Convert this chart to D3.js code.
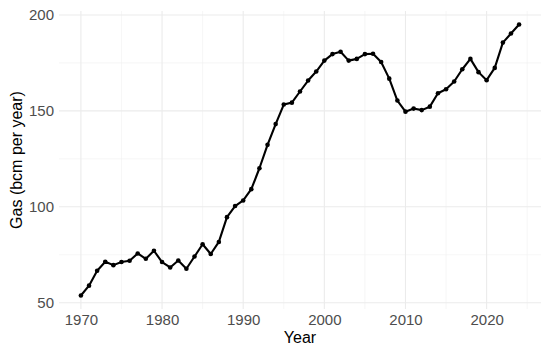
<!DOCTYPE html>
<html>
<head>
<meta charset="utf-8">
<script src="https://cdn.jsdelivr.net/npm/d3@7"></script>
<style>
  html, body { margin: 0; padding: 0; background: #fff; }
  svg { display: block; font-family: "Liberation Sans", Arial, sans-serif; }
</style>
</head>
<body>
<div id="chart"></div>
<script>
// ------- data -------
const years = d3.range(1970, 2025);
const gas = [
  53.8, 58.9, 66.7, 71.4, 69.6, 71.2, 71.9, 75.7, 72.9, 77.1,
  71.2, 68.4, 72.0, 67.7, 74.1, 80.5, 75.4, 81.7, 94.6, 100.4,
  103.3, 109.2, 120.1, 132.3, 143.1, 153.3, 154.3, 160.1, 165.8, 170.5,
  176.2, 179.6, 180.8, 176.2, 177.1, 179.6, 179.8, 175.5, 166.8, 155.4,
  149.6, 151.2, 150.4, 152.2, 159.2, 161.3, 165.3, 171.7, 177.1, 170.2,
  166.0, 172.4, 185.6, 190.3, 195.0
];
const xTicks = [1970, 1980, 1990, 2000, 2010, 2020];
const xMinor = [1975, 1985, 1995, 2005, 2015, 2025];
const yTicks = [50, 100, 150, 200];
const yMinor = [75, 125, 175];

const data = years.map((y, i) => ({ year: y, value: gas[i] }));

// ------- layout -------
const width = 550, height = 351;
const panel = { left: 59, right: 541, top: 11, bottom: 309 };
const FONT = "\"Liberation Sans\", Arial, sans-serif";

const svg = d3.select("#chart").append("svg")
  .attr("width", width).attr("height", height);

// ggplot-style 5% expansion
const xExt = d3.extent(years), xPad = (xExt[1] - xExt[0]) * 0.05;
const yExt = d3.extent(gas), yPad = (yExt[1] - yExt[0]) * 0.05;

const x = d3.scaleLinear()
  .domain([xExt[0] - xPad, xExt[1] + xPad])
  .range([panel.left, panel.right]);
const y = d3.scaleLinear()
  .domain([yExt[0] - yPad, yExt[1] + yPad])
  .range([panel.bottom, panel.top]);

// grid
const grid = svg.append("g");
grid.selectAll("line.xminor").data(xMinor.filter(d => x(d) <= panel.right)).enter()
  .append("line")
  .attr("x1", d => x(d)).attr("x2", d => x(d))
  .attr("y1", panel.top).attr("y2", panel.bottom)
  .attr("stroke", "#f0f0f0").attr("stroke-width", 0.6);
grid.selectAll("line.yminor").data(yMinor).enter()
  .append("line")
  .attr("y1", d => y(d)).attr("y2", d => y(d))
  .attr("x1", panel.left).attr("x2", panel.right)
  .attr("stroke", "#f0f0f0").attr("stroke-width", 0.6);
grid.selectAll("line.xmajor").data(xTicks).enter()
  .append("line")
  .attr("x1", d => x(d)).attr("x2", d => x(d))
  .attr("y1", panel.top).attr("y2", panel.bottom)
  .attr("stroke", "#ebebeb").attr("stroke-width", 1.1);
grid.selectAll("line.ymajor").data(yTicks).enter()
  .append("line")
  .attr("y1", d => y(d)).attr("y2", d => y(d))
  .attr("x1", panel.left).attr("x2", panel.right)
  .attr("stroke", "#ebebeb").attr("stroke-width", 1.1);

// axes (text only, like theme_minimal)
const xAxis = d3.axisBottom(x).tickValues(xTicks).tickFormat(d3.format("d")).tickSize(0).tickPadding(5);
const yAxis = d3.axisLeft(y).tickValues(yTicks).tickSize(0).tickPadding(5);

svg.append("g")
  .attr("transform", `translate(0,${panel.bottom})`)
  .call(xAxis)
  .call(g => g.select(".domain").remove())
  .call(g => g.selectAll("text").attr("fill", "#4d4d4d").style("font-size", "15px")
    .style("font-family", FONT));

svg.append("g")
  .attr("transform", `translate(${panel.left},0)`)
  .call(yAxis)
  .call(g => g.select(".domain").remove())
  .call(g => g.selectAll("text").attr("fill", "#4d4d4d").style("font-size", "15px")
    .style("font-family", FONT));

// axis titles
svg.append("text")
  .attr("x", (panel.left + panel.right) / 2).attr("y", 343)
  .attr("text-anchor", "middle")
  .attr("fill", "#000")
  .style("font-size", "16px")
  .text("Year");

svg.append("text")
  .attr("transform", `translate(21.5,${(panel.top + panel.bottom) / 2}) rotate(-90)`)
  .attr("text-anchor", "middle")
  .attr("fill", "#000")
  .style("font-size", "16px")
  .text("Gas (bcm per year)");

// line + points
const line = d3.line().x(d => x(d.year)).y(d => y(d.value));

svg.append("path")
  .datum(data)
  .attr("fill", "none")
  .attr("stroke", "#000")
  .attr("stroke-width", 2.1)
  .attr("stroke-linejoin", "round")
  .attr("d", line);

svg.selectAll("circle.pt").data(data).enter()
  .append("circle")
  .attr("class", "pt")
  .attr("cx", d => x(d.year))
  .attr("cy", d => y(d.value))
  .attr("r", 2.3)
  .attr("fill", "#000");
</script>
</body>
</html>
